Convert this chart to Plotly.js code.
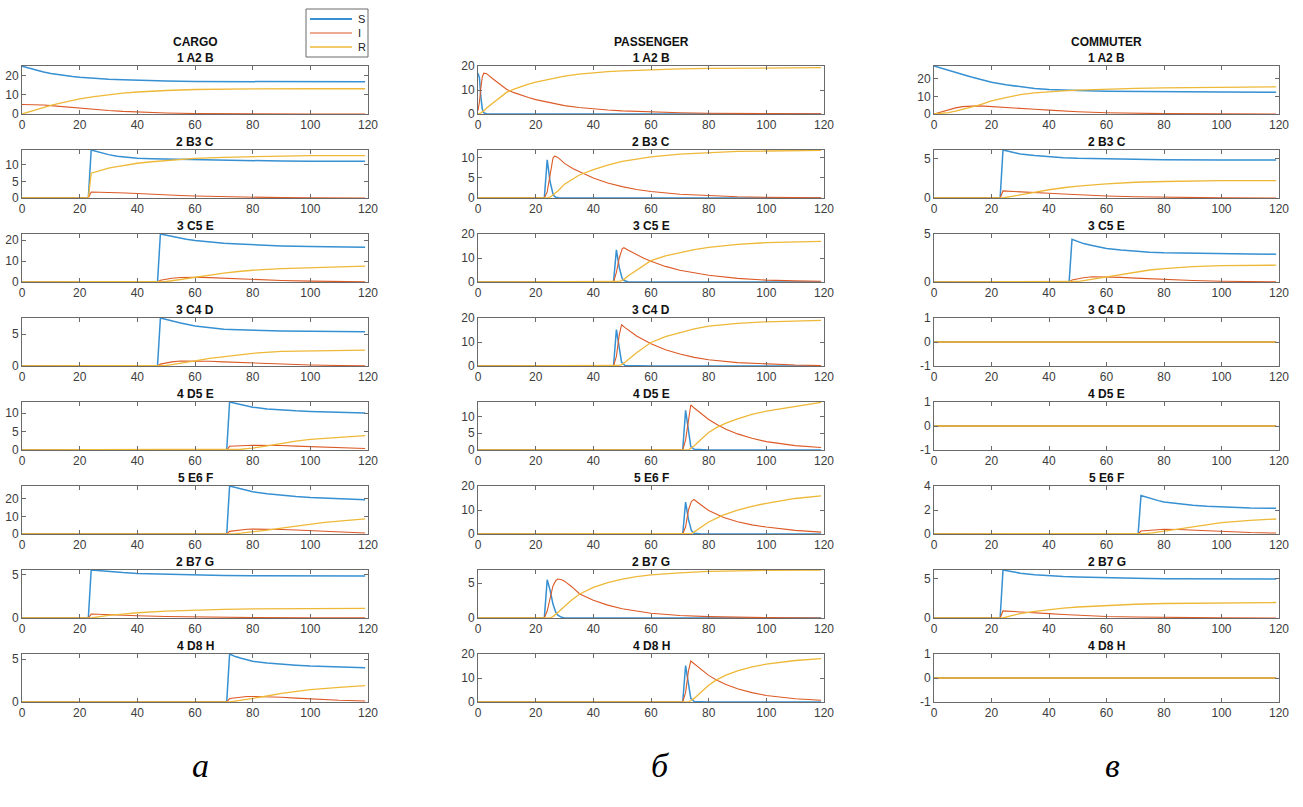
<!DOCTYPE html>
<html><head><meta charset="utf-8">
<script src="https://cdn.plot.ly/plotly-3.0.1.min.js"></script>
<style>html,body{margin:0;padding:0;background:#fff;}#chart{width:1303px;height:807px;}</style>
</head><body><div id="chart"></div>
<script>
// ---------- labels ----------
const columnTitles = ['CARGO', 'PASSENGER', 'COMMUTER'];
const rowTitles = ['1 A2 B', '2 B3 C', '3 C5 E', '3 C4 D', '4 D5 E', '5 E6 F', '2 B7 G', '4 D8 H'];
const seriesNames = ['S', 'I', 'R'];
const panelLetters = ['а', 'б', 'в'];
const xTicks = [0, 20, 40, 60, 80, 100, 120];

// ---------- CARGO ----------
const cargo1_t = [0, 2.5, 5, 7.5, 10, 12.5, 15, 17.5, 20, 25, 30, 35, 40, 45, 50, 60, 70, 80, 100, 119];
const cargo1_S = [25, 23.9, 22.9, 22.0, 21.2, 20.6, 20.1, 19.6, 19.2, 18.6, 18.2, 17.9, 17.6, 17.4, 17.2, 17.0, 16.95, 16.9, 16.8, 16.8];
const cargo1_I = [5, 4.98, 4.9, 4.7, 4.4, 4.05, 3.7, 3.35, 3.0, 2.4, 1.8, 1.35, 1.0, 0.72, 0.5, 0.25, 0.12, 0.05, 0.01, 0];
const cargo1_R = [0, 1.2, 2.4, 3.5, 4.5, 5.4, 6.3, 7.1, 7.9, 9.1, 10.1, 10.9, 11.5, 11.95, 12.3, 12.8, 13.0, 13.1, 13.2, 13.2];

const cargo2_t = [0, 23, 24, 26, 28, 30, 33, 36, 40, 45, 50, 55, 60, 70, 80, 90, 100, 119];
const cargo2_S = [0, 0, 14.5, 14.0, 13.5, 13.1, 12.6, 12.3, 12.0, 11.85, 11.75, 11.65, 11.55, 11.35, 11.2, 11.15, 11.1, 11.1];
const cargo2_I = [0, 0, 1.8, 1.8, 1.75, 1.7, 1.6, 1.5, 1.3, 1.1, 0.9, 0.75, 0.6, 0.38, 0.2, 0.1, 0.05, 0];
const cargo2_R = [0, 0, 7.5, 8.0, 8.5, 9.0, 9.5, 10.0, 10.5, 10.95, 11.3, 11.6, 12.0, 12.3, 12.5, 12.7, 12.8, 12.8];

const cargo3_t = [0, 47, 48, 50, 52, 55, 57, 60, 65, 70, 75, 80, 90, 100, 110, 119];
const cargo3_S = [0, 0, 22.9, 22.3, 21.7, 20.9, 20.4, 19.8, 19.1, 18.5, 18.1, 17.7, 17.2, 16.9, 16.7, 16.6];
const cargo3_I = [0, 0, 0.8, 1.3, 1.8, 2.15, 2.3, 2.3, 2.1, 1.8, 1.5, 1.2, 0.7, 0.4, 0.2, 0.1];
const cargo3_R = [0, 0, 0.05, 0.25, 0.6, 1.2, 1.6, 2.4, 3.4, 4.2, 5.0, 5.6, 6.4, 6.9, 7.3, 7.6];

const cargo4_t = [0, 47, 48, 50, 52, 55, 60, 65, 70, 75, 80, 90, 100, 110, 119];
const cargo4_S = [0, 0, 7.55, 7.3, 7.05, 6.75, 6.3, 6.0, 5.8, 5.7, 5.6, 5.5, 5.45, 5.4, 5.4];
const cargo4_I = [0, 0, 0.3, 0.5, 0.65, 0.78, 0.8, 0.75, 0.65, 0.55, 0.45, 0.28, 0.15, 0.08, 0.05];
const cargo4_R = [0, 0, 0, 0.1, 0.2, 0.4, 0.8, 1.2, 1.5, 1.8, 2.0, 2.3, 2.4, 2.48, 2.5];

const cargo5_t = [0, 71, 72, 74, 76, 78, 80, 85, 90, 95, 100, 110, 119];
const cargo5_S = [0, 0, 13.0, 12.6, 12.2, 11.9, 11.6, 11.1, 10.8, 10.6, 10.45, 10.2, 10.0];
const cargo5_I = [0, 0, 1.0, 1.12, 1.2, 1.23, 1.25, 1.3, 1.2, 1.05, 0.9, 0.6, 0.4];
const cargo5_R = [0, 0, 0, 0.08, 0.2, 0.35, 0.5, 1.1, 1.8, 2.4, 2.9, 3.5, 3.9];

const cargo6_t = [0, 71, 72, 74, 76, 78, 80, 85, 90, 95, 100, 105, 110, 119];
const cargo6_S = [0, 0, 27.4, 26.5, 25.6, 24.8, 24.1, 23.0, 22.1, 21.4, 20.8, 20.4, 20.0, 19.6];
const cargo6_I = [0, 0, 1.5, 2.0, 2.4, 2.7, 2.8, 2.9, 2.6, 2.25, 1.9, 1.5, 1.1, 0.6];
const cargo6_R = [0, 0, 0, 0.2, 0.5, 0.8, 1.1, 2.2, 3.4, 4.6, 5.7, 6.6, 7.4, 8.6];

const cargo7_t = [0, 23, 24, 27, 30, 35, 40, 50, 60, 70, 80, 100, 119];
const cargo7_S = [0, 0, 5.5, 5.4, 5.3, 5.2, 5.1, 5.0, 4.9, 4.87, 4.85, 4.8, 4.8];
const cargo7_I = [0, 0, 0.45, 0.4, 0.35, 0.3, 0.25, 0.18, 0.12, 0.08, 0.05, 0.02, 0.01];
const cargo7_R = [0, 0, 0, 0.15, 0.3, 0.45, 0.6, 0.78, 0.9, 0.98, 1.05, 1.1, 1.1];

const cargo8_t = [0, 71, 72, 74, 76, 78, 80, 85, 90, 95, 100, 110, 119];
const cargo8_S = [0, 0, 5.6, 5.3, 5.1, 4.9, 4.75, 4.55, 4.4, 4.3, 4.2, 4.08, 4.0];
const cargo8_I = [0, 0, 0.4, 0.5, 0.6, 0.65, 0.65, 0.62, 0.55, 0.45, 0.35, 0.2, 0.12];
const cargo8_R = [0, 0, 0, 0.1, 0.2, 0.3, 0.4, 0.7, 1.0, 1.25, 1.45, 1.7, 1.9];

// ---------- PASSENGER ----------
const pass1_t = [0, 0.5, 1, 1.5, 2, 3, 5, 7.5, 10, 12.5, 15, 17.5, 20, 25, 30, 35, 40, 45, 50, 60, 70, 80, 100, 119];
const pass1_S = [17, 15, 7, 2, 0.5, 0, 0, 0, 0, 0, 0, 0, 0, 0, 0, 0, 0, 0, 0, 0, 0, 0, 0, 0];
const pass1_I = [1.5, 5, 11, 15.5, 17, 16.8, 14.8, 12.3, 10.2, 8.9, 7.8, 6.9, 6.0, 4.6, 3.5, 2.7, 2.1, 1.65, 1.3, 0.8, 0.5, 0.3, 0.1, 0.05];
const pass1_R = [0, 0.1, 0.4, 0.9, 1.3, 2.5, 4.5, 7.0, 9.1, 10.4, 11.5, 12.4, 13.3, 14.7, 15.8, 16.6, 17.2, 17.65, 18.0, 18.5, 18.8, 19.0, 19.2, 19.3];

const pass2_t = [0, 23, 24, 25, 26, 26.5, 27, 28, 30, 33, 35, 40, 45, 50, 55, 60, 70, 80, 90, 100, 119];
const pass2_S = [0, 0, 9.4, 4, 1, 0.4, 0.2, 0.05, 0, 0, 0, 0, 0, 0, 0, 0, 0, 0, 0, 0, 0];
const pass2_I = [0, 0, 1.5, 6, 9.8, 10.3, 10.2, 9.8, 8.5, 7.2, 6.5, 4.9, 3.7, 2.8, 2.1, 1.6, 0.93, 0.54, 0.31, 0.18, 0.06];
const pass2_R = [0, 0, 0, 0.2, 0.8, 1.0, 1.3, 1.9, 3.4, 4.8, 5.6, 7.0, 8.1, 9.0, 9.6, 10.1, 10.8, 11.2, 11.45, 11.55, 11.7];

const pass3_t = [0, 47, 48, 49, 50, 50.6, 52, 55, 57.5, 60, 65, 70, 75, 80, 90, 100, 110, 119];
const pass3_S = [0, 0, 13.4, 6, 1.5, 0.6, 0.1, 0, 0, 0, 0, 0, 0, 0, 0, 0, 0, 0];
const pass3_I = [0, 0, 4, 10, 13.8, 14.3, 13.3, 11.3, 9.9, 8.6, 6.5, 4.9, 3.7, 2.8, 1.5, 0.8, 0.45, 0.3];
const pass3_R = [0, 0, 0, 0.2, 0.7, 1.0, 2.5, 5.0, 7.0, 8.9, 10.9, 12.3, 13.5, 14.4, 15.7, 16.4, 16.7, 16.9];

const pass4_t = [0, 47, 48, 49, 49.8, 51, 55, 57.5, 60, 65, 70, 75, 80, 90, 100, 110, 119];
const pass4_S = [0, 0, 15.2, 7, 1.5, 0.2, 0, 0, 0, 0, 0, 0, 0, 0, 0, 0, 0];
const pass4_I = [0, 0, 4, 13, 17.2, 16.0, 12.5, 10.8, 9.3, 6.8, 5.0, 3.6, 2.6, 1.4, 0.75, 0.4, 0.2];
const pass4_R = [0, 0, 0, 0.2, 0.6, 1.6, 5.5, 7.8, 9.8, 12.2, 14.0, 15.5, 16.6, 17.8, 18.4, 18.8, 19.0];

const pass5_t = [0, 71, 72, 73, 73.8, 75, 77.5, 80, 83, 86, 90, 95, 100, 110, 119];
const pass5_S = [0, 0, 11.8, 5, 1, 0.2, 0, 0, 0, 0, 0, 0, 0, 0, 0];
const pass5_I = [0, 0, 3, 9, 13.4, 12.5, 10.7, 9.1, 7.5, 6.2, 4.8, 3.5, 2.5, 1.3, 0.75];
const pass5_R = [0, 0, 0, 0, 0.5, 1.3, 3.3, 5.2, 6.8, 8.0, 9.3, 10.6, 11.6, 13.0, 14.2];

const pass6_t = [0, 71, 72, 73, 74, 74.9, 77.5, 80, 85, 90, 95, 100, 110, 119];
const pass6_S = [0, 0, 13.3, 6, 1.5, 0.3, 0, 0, 0, 0, 0, 0, 0, 0];
const pass6_I = [0, 0, 3, 10, 13.5, 14.4, 12.0, 9.8, 7.0, 5.1, 3.8, 2.9, 1.5, 0.8];
const pass6_R = [0, 0, 0, 0, 0.3, 0.8, 2.9, 5.0, 7.9, 9.9, 11.5, 12.8, 14.8, 15.9];

const pass7_t = [0, 23, 24, 25, 26, 27, 27.7, 29, 30, 32.5, 35.3, 40, 45, 50, 55, 60, 70, 80, 100, 119];
const pass7_S = [0, 0, 5.5, 4, 2, 0.8, 0.4, 0.1, 0, 0, 0, 0, 0, 0, 0, 0, 0, 0, 0, 0];
const pass7_I = [0, 0, 1, 3, 4.6, 5.4, 5.6, 5.5, 5.3, 4.5, 3.45, 2.55, 1.85, 1.32, 0.95, 0.68, 0.35, 0.2, 0.05, 0.01];
const pass7_R = [0, 0, 0, 0, 0.2, 0.5, 0.8, 1.3, 1.7, 2.6, 3.45, 4.4, 5.1, 5.6, 5.95, 6.2, 6.5, 6.7, 6.85, 6.9];

const pass8_t = [0, 71, 72, 73, 73.8, 75, 77.5, 80, 82.7, 86, 90, 95, 100, 110, 119];
const pass8_S = [0, 0, 15.2, 7, 1.5, 0.2, 0, 0, 0, 0, 0, 0, 0, 0, 0];
const pass8_I = [0, 0, 4, 13, 17.1, 16.0, 13.4, 11.1, 9.2, 7.3, 5.5, 3.9, 2.7, 1.35, 0.7];
const pass8_R = [0, 0, 0, 0, 0.6, 1.5, 4.3, 7.0, 9.2, 11.2, 13.0, 14.6, 15.8, 17.3, 18.1];

// ---------- COMMUTER ----------
const comm1_t = [0, 2.5, 5, 7.5, 10, 13, 15, 17.5, 20, 25, 30, 35, 40, 45, 50, 60, 70, 80, 100, 119];
const comm1_S = [27.3, 26.0, 24.8, 23.6, 22.5, 21.0, 20.1, 19.0, 18.1, 16.6, 15.4, 14.5, 13.9, 13.5, 13.3, 12.95, 12.75, 12.6, 12.5, 12.4];
const comm1_I = [0, 1.3, 2.5, 3.5, 4.2, 4.6, 4.6, 4.5, 4.3, 3.8, 3.2, 2.7, 2.2, 1.7, 1.3, 0.7, 0.4, 0.2, 0.05, 0];
const comm1_R = [0, 0.2, 0.8, 1.6, 2.6, 3.9, 4.8, 6.1, 7.4, 9.3, 11.0, 12.0, 12.7, 13.2, 13.6, 14.2, 14.6, 14.9, 15.3, 15.4];

const comm2_t = [0, 23, 24, 27, 30, 35, 40, 45, 50, 60, 70, 80, 100, 119];
const comm2_S = [0, 0, 6.1, 5.85, 5.6, 5.4, 5.25, 5.13, 5.05, 4.96, 4.9, 4.87, 4.83, 4.83];
const comm2_I = [0, 0, 0.9, 0.86, 0.8, 0.7, 0.6, 0.5, 0.4, 0.25, 0.15, 0.08, 0.02, 0];
const comm2_R = [0, 0, 0, 0.2, 0.4, 0.75, 1.05, 1.3, 1.5, 1.8, 2.0, 2.1, 2.2, 2.2];

const comm3_t = [0, 47, 48, 50, 52, 55, 60, 65, 70, 75, 80, 90, 100, 110, 119];
const comm3_S = [0, 0, 4.45, 4.25, 4.0, 3.8, 3.5, 3.33, 3.2, 3.11, 3.05, 2.99, 2.95, 2.92, 2.9];
const comm3_I = [0, 0, 0.2, 0.35, 0.45, 0.55, 0.55, 0.48, 0.4, 0.32, 0.25, 0.15, 0.08, 0.04, 0.02];
const comm3_R = [0, 0, 0, 0.05, 0.15, 0.3, 0.5, 0.8, 1.05, 1.25, 1.4, 1.6, 1.7, 1.73, 1.75];

const comm4_t = [0, 119];
const comm4_S = [0, 0];
const comm4_I = [0, 0];
const comm4_R = [0, 0];

const comm5_t = [0, 119];
const comm5_S = [0, 0];
const comm5_I = [0, 0];
const comm5_R = [0, 0];

const comm6_t = [0, 71, 72, 74, 76, 78, 80, 85, 90, 95, 100, 110, 119];
const comm6_S = [0, 0, 3.2, 3.05, 2.9, 2.78, 2.67, 2.52, 2.4, 2.32, 2.25, 2.17, 2.14];
const comm6_I = [0, 0, 0.25, 0.3, 0.35, 0.38, 0.4, 0.38, 0.32, 0.26, 0.2, 0.12, 0.08];
const comm6_R = [0, 0, 0, 0.05, 0.1, 0.17, 0.25, 0.45, 0.64, 0.8, 0.95, 1.14, 1.25];

const comm7_t = [0, 23, 24, 27, 30, 35, 40, 45, 50, 60, 70, 80, 100, 119];
const comm7_S = [0, 0, 6.1, 5.9, 5.7, 5.5, 5.35, 5.27, 5.2, 5.1, 5.05, 5.0, 4.97, 4.95];
const comm7_I = [0, 0, 0.9, 0.82, 0.75, 0.65, 0.55, 0.45, 0.35, 0.2, 0.12, 0.07, 0.02, 0];
const comm7_R = [0, 0, 0, 0.3, 0.55, 0.85, 1.07, 1.25, 1.4, 1.62, 1.75, 1.84, 1.92, 1.97];

const comm8_t = [0, 119];
const comm8_S = [0, 0];
const comm8_I = [0, 0];
const comm8_R = [0, 0];

// ---------- axis limits & ticks ----------
const cargoYRange = [[0, 25.1], [0, 14.5], [0, 22.9], [0, 7.55], [0, 13.0], [0, 27.4], [0, 5.5], [0, 5.6]];
const passYRange = [[0, 20], [0, 11.8], [0, 20], [0, 20], [0, 14.3], [0, 20], [0, 6.9], [0, 20]];
const commYRange = [[0, 27.3], [0, 6.1], [0, 5.0], [-1, 1], [-1, 1], [0, 4], [0, 6.1], [-1, 1]];
const cargoYTicks = [[0, 10, 20], [0, 5, 10], [0, 10, 20], [0, 5], [0, 5, 10], [0, 10, 20], [0, 5], [0, 5]];
const passYTicks = [[0, 10, 20], [0, 5, 10], [0, 10, 20], [0, 10, 20], [0, 5, 10], [0, 10, 20], [0, 5], [0, 10, 20]];
const commYTicks = [[0, 10, 20], [0, 5], [0, 5], [-1, 0, 1], [-1, 0, 1], [0, 2, 4], [0, 5], [-1, 0, 1]];

// ---------- build ----------
const columns = [
  { panels: [[cargo1_t, cargo1_S, cargo1_I, cargo1_R], [cargo2_t, cargo2_S, cargo2_I, cargo2_R], [cargo3_t, cargo3_S, cargo3_I, cargo3_R], [cargo4_t, cargo4_S, cargo4_I, cargo4_R],
             [cargo5_t, cargo5_S, cargo5_I, cargo5_R], [cargo6_t, cargo6_S, cargo6_I, cargo6_R], [cargo7_t, cargo7_S, cargo7_I, cargo7_R], [cargo8_t, cargo8_S, cargo8_I, cargo8_R]],
    yr: cargoYRange, yt: cargoYTicks },
  { panels: [[pass1_t, pass1_S, pass1_I, pass1_R], [pass2_t, pass2_S, pass2_I, pass2_R], [pass3_t, pass3_S, pass3_I, pass3_R], [pass4_t, pass4_S, pass4_I, pass4_R],
             [pass5_t, pass5_S, pass5_I, pass5_R], [pass6_t, pass6_S, pass6_I, pass6_R], [pass7_t, pass7_S, pass7_I, pass7_R], [pass8_t, pass8_S, pass8_I, pass8_R]],
    yr: passYRange, yt: passYTicks },
  { panels: [[comm1_t, comm1_S, comm1_I, comm1_R], [comm2_t, comm2_S, comm2_I, comm2_R], [comm3_t, comm3_S, comm3_I, comm3_R], [comm4_t, comm4_S, comm4_I, comm4_R],
             [comm5_t, comm5_S, comm5_I, comm5_R], [comm6_t, comm6_S, comm6_I, comm6_R], [comm7_t, comm7_S, comm7_I, comm7_R], [comm8_t, comm8_S, comm8_I, comm8_R]],
    yr: commYRange, yt: commYTicks }
];

const W = 1303, H = 807;
const colL = [22, 478, 934], colR = [368, 824, 1279];
const rowTop0 = 66, rowStep = 84, rowH = 48;
const lineColors = { S: '#3690d2', I: '#dc5a26', R: '#eeb838' };
const lineWidths = { S: 1.5, I: 1.1, R: 1.3 };
const legendWidths = { S: 2, I: 1, R: 1.7 };
const FONT = 'Liberation Sans, Arial, sans-serif';
const axisColor = '#6a6a6a';

const traces = [];
const layout = {
  width: W, height: H,
  margin: { l: 0, r: 0, t: 0, b: 0 },
  paper_bgcolor: '#ffffff', plot_bgcolor: '#ffffff',
  font: { family: FONT, size: 11, color: '#404040' },
  showlegend: false,
  annotations: [],
  shapes: []
};

columns.forEach((col, c) => {
  col.panels.forEach((pn, r) => {
    const idx = c * 8 + r + 1;
    const xa = idx === 1 ? 'x' : 'x' + idx;
    const ya = idx === 1 ? 'y' : 'y' + idx;
    const series = pn.slice(1);
    seriesNames.forEach((name, k) => {
      traces.push({
        type: 'scatter', mode: 'lines', x: pn[0], y: series[k], name: name,
        xaxis: xa, yaxis: ya, hoverinfo: 'skip',
        line: { color: lineColors[name], width: lineWidths[name] }
      });
    });
    const top = rowTop0 + rowStep * r, bot = top + rowH;
    const common = {
      showgrid: false, zeroline: false, showline: true, linecolor: axisColor, linewidth: 1,
      mirror: 'allticks', ticks: 'inside', ticklen: 4, tickcolor: axisColor, tickwidth: 1,
      tickfont: { family: FONT, size: 12, color: '#3c3c3c' }, fixedrange: true
    };
    layout['xaxis' + (idx === 1 ? '' : idx)] = Object.assign({}, common, {
      domain: [colL[c] / W, colR[c] / W], anchor: ya, range: [0, 120],
      tickmode: 'array', tickvals: xTicks, ticktext: xTicks.map(String)
    });
    layout['yaxis' + (idx === 1 ? '' : idx)] = Object.assign({}, common, {
      domain: [1 - bot / H, 1 - top / H], anchor: xa, range: col.yr[r],
      tickmode: 'array', tickvals: col.yt[r], ticktext: col.yt[r].map(String)
    });
    const ttl = r === 0 ? '<b>' + columnTitles[c] + '</b><br><b>' + rowTitles[r] + '</b>' : '<b>' + rowTitles[r] + '</b>';
    layout.annotations.push({
      text: ttl, xref: 'paper', yref: 'paper',
      x: (colL[c] + colR[c]) / 2 / W, y: 1 - top / H, xanchor: 'center', yanchor: 'bottom',
      showarrow: false, font: { family: FONT, size: 12, color: '#111' }, yshift: -1
    });
  });
  layout.annotations.push({
    text: '<i>' + panelLetters[c] + '</i>', xref: 'paper', yref: 'paper',
    x: [200, 660, 1112][c] / W, y: 1 - 765 / H, xanchor: 'center', yanchor: 'middle',
    showarrow: false, font: { family: 'Liberation Serif, Times New Roman, serif', size: 34, color: '#000' }
  });
});

// ---------- legend (MATLAB-style compact box) ----------
const lgX0 = 306, lgX1 = 368, lgY0 = 9, lgY1 = 57, lgRow = 14;
const px = v => v / W, py = v => 1 - v / H;
layout.shapes.push({ type: 'rect', xref: 'paper', yref: 'paper', x0: px(lgX0), x1: px(lgX1), y0: py(lgY1), y1: py(lgY0),
  line: { color: axisColor, width: 1 }, fillcolor: '#ffffff', layer: 'above' });
seriesNames.forEach((name, k) => {
  const yy = lgY0 + 10 + lgRow * k;
  layout.shapes.push({ type: 'line', xref: 'paper', yref: 'paper', x0: px(lgX0 + 4), x1: px(lgX0 + 46), y0: py(yy), y1: py(yy),
    line: { color: lineColors[name], width: legendWidths[name] }, layer: 'above' });
  layout.annotations.push({ text: name, xref: 'paper', yref: 'paper', x: px(lgX0 + 50), y: py(yy), xanchor: 'left', yanchor: 'middle',
    showarrow: false, font: { family: FONT, size: 11, color: '#222' } });
});

Plotly.newPlot('chart', traces, layout, { displayModeBar: false, staticPlot: true });
</script>
</body></html>
